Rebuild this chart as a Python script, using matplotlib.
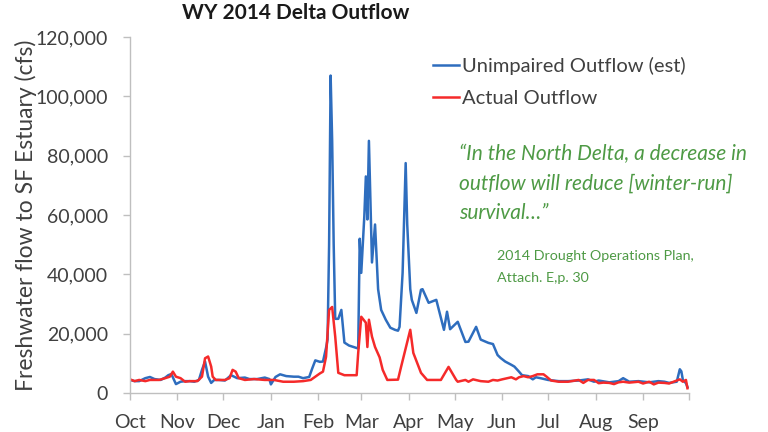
import matplotlib
matplotlib.use("Agg")
import matplotlib.pyplot as plt
from matplotlib.ticker import FuncFormatter
import pandas as pd

plt.rcParams['font.family'] = ['Lato', 'DejaVu Sans']

# ---- data (cfs) ----
unimpaired_dates = [
    "2013-10-01", "2013-10-04", "2013-10-07", "2013-10-11", "2013-10-14", "2013-10-17",
    "2013-10-21", "2013-10-24", "2013-10-26", "2013-10-28", "2013-10-31", "2013-11-03",
    "2013-11-06", "2013-11-09", "2013-11-12", "2013-11-15", "2013-11-17", "2013-11-19",
    "2013-11-21", "2013-11-23", "2013-11-25", "2013-11-28", "2013-12-02", "2013-12-06",
    "2013-12-10", "2013-12-15", "2013-12-18", "2013-12-23", "2013-12-28", "2013-12-31",
    "2014-01-01", "2014-01-04", "2014-01-07", "2014-01-11", "2014-01-16", "2014-01-19",
    "2014-01-22", "2014-01-26", "2014-01-28", "2014-01-30", "2014-02-02", "2014-02-04",
    "2014-02-06", "2014-02-07", "2014-02-08", "2014-02-09", "2014-02-10", "2014-02-11",
    "2014-02-12", "2014-02-14", "2014-02-16", "2014-02-18", "2014-02-21", "2014-02-24",
    "2014-02-27", "2014-02-28", "2014-03-01", "2014-03-03", "2014-03-04", "2014-03-05",
    "2014-03-06", "2014-03-08", "2014-03-10", "2014-03-12", "2014-03-14", "2014-03-17",
    "2014-03-20", "2014-03-23", "2014-03-25", "2014-03-26", "2014-03-28", "2014-03-30",
    "2014-03-31", "2014-04-02", "2014-04-03", "2014-04-06", "2014-04-09", "2014-04-10",
    "2014-04-14", "2014-04-19", "2014-04-24", "2014-04-26", "2014-04-28", "2014-05-03",
    "2014-05-08", "2014-05-10", "2014-05-15", "2014-05-18", "2014-05-23", "2014-05-26",
    "2014-05-29", "2014-05-31", "2014-06-03", "2014-06-07", "2014-06-09", "2014-06-12",
    "2014-06-14", "2014-06-18", "2014-06-21", "2014-06-23", "2014-06-26", "2014-07-01",
    "2014-07-08", "2014-07-14", "2014-07-21", "2014-07-27", "2014-07-31", "2014-08-03",
    "2014-08-10", "2014-08-16", "2014-08-19", "2014-08-23", "2014-08-29", "2014-09-05",
    "2014-09-11", "2014-09-15", "2014-09-18", "2014-09-23", "2014-09-25", "2014-09-26",
    "2014-09-27", "2014-09-29", "2014-09-30",
]
unimpaired_cfs = [
    4400, 4000, 4000, 5000, 5400, 4700,
    4400, 5200, 6000, 6400, 3000, 3800,
    4000, 4000, 3800, 4400, 7800, 10600,
    5500, 3400, 4400, 4400, 4200, 6000,
    5000, 5200, 4700, 4700, 5200, 4700,
    2900, 5400, 6300, 5700, 5500, 5500,
    5000, 5400, 8300, 11000, 10500, 10600,
    15200, 18000, 50000, 107000, 85000, 50000,
    25000, 25000, 28000, 17000, 16000, 15500,
    15000, 52000, 40500, 59600, 73000, 58500,
    85000, 44000, 56800, 35000, 28000, 24700,
    22000, 21300, 21000, 22300, 40500, 77500,
    57000, 35000, 31400, 27000, 34800, 35000,
    30400, 31400, 21300, 27400, 21500, 24000,
    17200, 17300, 22300, 18000, 16900, 16500,
    12800, 11800, 10600, 9500, 8900, 7200,
    6000, 5700, 4600, 5300, 5000, 4400,
    4000, 4000, 4200, 4600, 3800, 4200,
    3600, 4000, 5000, 3800, 4000, 3600,
    4000, 3800, 3400, 3800, 8000, 7300,
    4400, 3300, 2000,
]

actual_dates = [
    "2013-10-01", "2013-10-04", "2013-10-07", "2013-10-11", "2013-10-14", "2013-10-20",
    "2013-10-24", "2013-10-27", "2013-10-29", "2013-10-31", "2013-11-03", "2013-11-06",
    "2013-11-09", "2013-11-14", "2013-11-17", "2013-11-19", "2013-11-21", "2013-11-23",
    "2013-11-24", "2013-11-26", "2013-12-02", "2013-12-05", "2013-12-07", "2013-12-09",
    "2013-12-11", "2013-12-15", "2013-12-21", "2013-12-28", "2014-01-03", "2014-01-09",
    "2014-01-16", "2014-01-22", "2014-01-27", "2014-01-30", "2014-02-02", "2014-02-04",
    "2014-02-06", "2014-02-08", "2014-02-10", "2014-02-12", "2014-02-14", "2014-02-18",
    "2014-02-24", "2014-02-26", "2014-02-27", "2014-03-01", "2014-03-04", "2014-03-05",
    "2014-03-06", "2014-03-08", "2014-03-10", "2014-03-13", "2014-03-15", "2014-03-18",
    "2014-03-25", "2014-03-27", "2014-04-02", "2014-04-04", "2014-04-09", "2014-04-13",
    "2014-04-22", "2014-04-27", "2014-05-02", "2014-05-03", "2014-05-08", "2014-05-10",
    "2014-05-13", "2014-05-18", "2014-05-23", "2014-05-26", "2014-05-29", "2014-06-01",
    "2014-06-07", "2014-06-10", "2014-06-12", "2014-06-15", "2014-06-18", "2014-06-21",
    "2014-06-24", "2014-06-28", "2014-06-30", "2014-07-03", "2014-07-08", "2014-07-14",
    "2014-07-21", "2014-07-24", "2014-07-27", "2014-07-31", "2014-08-03", "2014-08-06",
    "2014-08-10", "2014-08-13", "2014-08-16", "2014-08-19", "2014-08-23", "2014-08-29",
    "2014-09-01", "2014-09-05", "2014-09-08", "2014-09-11", "2014-09-15", "2014-09-18",
    "2014-09-21", "2014-09-25", "2014-09-27", "2014-09-29", "2014-09-30",
]
actual_cfs = [
    4600, 4000, 4400, 4000, 4400, 4400,
    5000, 5500, 7200, 5500, 5000, 3800,
    4000, 4000, 5500, 11700, 12300, 8900,
    5500, 4400, 4400, 5000, 7800, 7200,
    5000, 4400, 4700, 4400, 4400, 3800,
    3800, 4000, 4400, 5500, 6600, 7200,
    12200, 28000, 29000, 19000, 6800, 6000,
    6000, 6000, 13500, 25700, 23700, 15500,
    24700, 19000, 15500, 12000, 7800, 4400,
    4500, 8800, 21300, 13500, 6800, 4400,
    4400, 8800, 4400, 3800, 4400, 3800,
    4600, 4000, 3800, 4400, 4200, 4600,
    5300, 4600, 5300, 5700, 5300, 5700,
    6300, 6300, 5500, 4200, 3800, 3800,
    4400, 3400, 4400, 4400, 3300, 3500,
    3400, 3000, 3600, 3800, 3500, 3800,
    3200, 3800, 2900, 3500, 3400, 3200,
    3800, 4600, 3800, 4400, 1600,
]

month_starts = pd.date_range("2013-10-01", "2014-10-01", freq="MS")
month_labels = ["Oct", "Nov", "Dec", "Jan", "Feb", "Mar", "Apr", "May",
                "Jun", "Jul", "Aug", "Sep", ""]
y_ticks = [0, 20000, 40000, 60000, 80000, 100000, 120000]

series_names = ["Unimpaired Outflow (est)", "Actual Outflow"]

# ---- figure ----
fig = plt.figure(figsize=(7.68, 4.32), dpi=100)
ax = fig.add_axes([130/768, 1-393/432, (689-130)/768, (393-37)/432])

blue = "#2E6DBE"
red = "#F52A2A"
ax.plot(pd.to_datetime(unimpaired_dates), unimpaired_cfs, color=blue, lw=1.8,
        label=series_names[0])
ax.plot(pd.to_datetime(actual_dates), actual_cfs, color=red, lw=1.8,
        label=series_names[1])

ax.set_xlim(pd.Timestamp("2013-10-01"), pd.Timestamp("2014-10-01"))
ax.set_ylim(0, 120000)
ax.set_xticks(month_starts)
ax.set_xticklabels(month_labels)
ax.set_yticks(y_ticks)
ax.yaxis.set_major_formatter(FuncFormatter(lambda v, p: f"{int(v):,}"))

text_col = "#404040"
axis_col = "#BFBFBF"
for s in ["top", "right"]:
    ax.spines[s].set_visible(False)
for s in ["left", "bottom"]:
    ax.spines[s].set_color(axis_col)
    ax.spines[s].set_linewidth(1.0)
ax.tick_params(axis="both", direction="out", length=5, width=1.0, color=axis_col,
               labelcolor=text_col, labelsize=14)
ax.tick_params(axis="x", pad=10)
ax.tick_params(axis="y", pad=11)

ax.set_ylabel("Freshwater flow to SF Estuary (cfs)", fontsize=16.5, color=text_col)
ax.yaxis.set_label_coords(-(130-37)/559, 0.5)

fig.text(296/768, 1-13/432, "WY 2014 Delta Outflow", ha="center", va="center",
         fontsize=15, fontweight="bold", color="#1a1a1a")

leg = ax.legend(loc="upper left", bbox_to_anchor=((433-130)/559, 1-(57-37)/356),
                frameon=False, fontsize=14.5, handlelength=1.3, handletextpad=0.15,
                labelspacing=0.75, borderaxespad=0, borderpad=0)
for t in leg.get_texts():
    t.set_color(text_col)

green = "#4E9A45"
quote = "\u201cIn the North Delta, a decrease in\noutflow will reduce [winter-run]\nsurvival\u2026\u201d"
fig.text(459/768, 1-144/432, quote, ha="left", va="top", fontsize=15, style="italic",
         color=green, linespacing=1.6)
fig.text(497/768, 1-250/432, "2014 Drought Operations Plan,\nAttach. E,p. 30",
         ha="left", va="top", fontsize=10.3, color=green, linespacing=1.95)

fig.savefig("out.png", dpi=100)
